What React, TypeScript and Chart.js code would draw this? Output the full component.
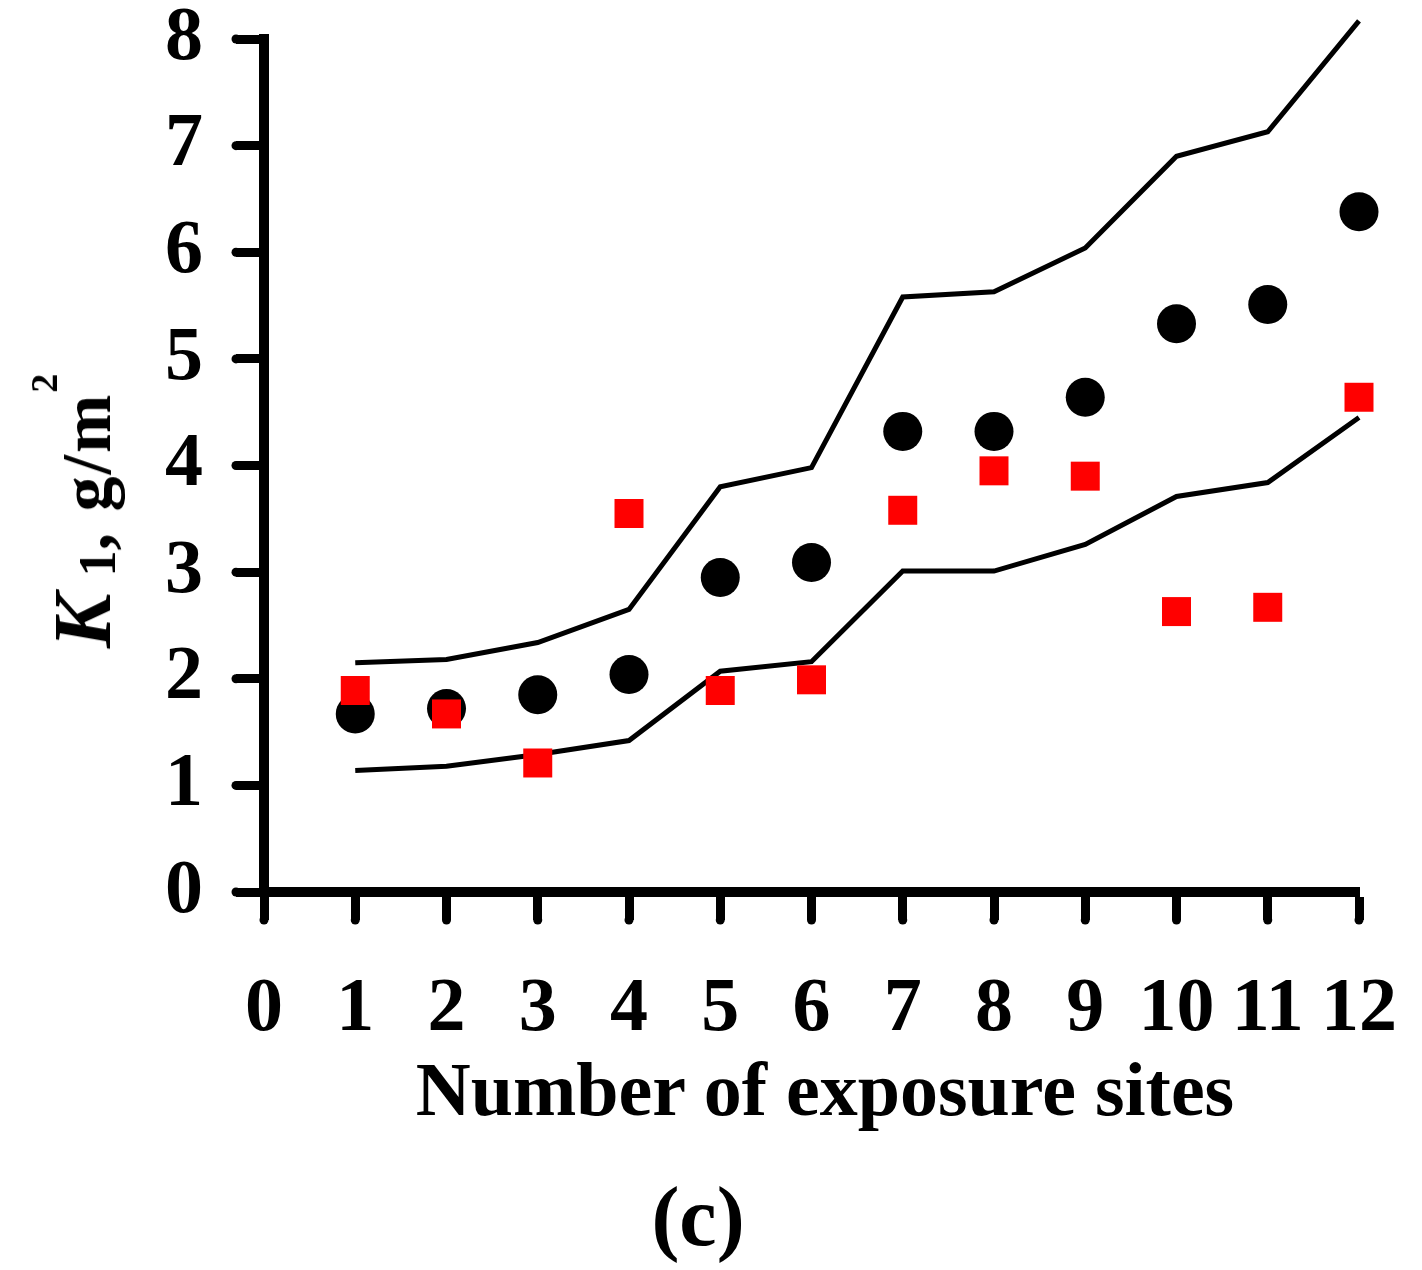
import React, { useEffect, useRef } from "react";
import { Chart, registerables } from "chart.js";

Chart.register(...registerables);

const sites = [1, 2, 3, 4, 5, 6, 7, 8, 9, 10, 11, 12];
const circleValues = [1.67, 1.72, 1.85, 2.04, 2.95, 3.09, 4.32, 4.32, 4.64, 5.33, 5.51, 6.38];
const squareValues = [1.89, 1.67, 1.21, 3.55, 1.89, 1.99, 3.58, 3.95, 3.9, 2.63, 2.67, 4.64];
const upperBound = [2.15, 2.18, 2.34, 2.65, 3.8, 3.98, 5.58, 5.63, 6.04, 6.9, 7.13, 8.17];
const lowerBound = [1.14, 1.18, 1.29, 1.42, 2.07, 2.16, 3.01, 3.01, 3.26, 3.71, 3.84, 4.45];
const xTickValues = [0, 1, 2, 3, 4, 5, 6, 7, 8, 9, 10, 11, 12];
const yTickValues = [0, 1, 2, 3, 4, 5, 6, 7, 8];

const FONT = "'Liberation Serif', 'Times New Roman', serif";
const TICK_LEN = 28;
const TICK_W = 9;

const toPoints = (ys: number[]) => sites.map((x, i) => ({ x, y: ys[i] }));

const zeroPadding = (scale: any) => {
  scale.paddingTop = 0;
  scale.paddingBottom = 0;
  scale.paddingLeft = 0;
  scale.paddingRight = 0;
};

const roundTickCaps = {
  id: "roundTickCaps",
  afterDraw(chart: any) {
    const { ctx, chartArea, scales } = chart;
    ctx.save();
    ctx.fillStyle = "#000";
    const r = TICK_W / 2;
    yTickValues.forEach((v) => {
      const py = scales.y.getPixelForValue(v);
      ctx.beginPath();
      ctx.arc(chartArea.left - TICK_LEN, py, r, 0, Math.PI * 2);
      ctx.fill();
    });
    xTickValues.forEach((v) => {
      const px = scales.x.getPixelForValue(v);
      ctx.beginPath();
      ctx.arc(px, chartArea.bottom + TICK_LEN, r, 0, Math.PI * 2);
      ctx.fill();
    });
    ctx.restore();
  },
};

export default function App() {
  const ref = useRef<HTMLCanvasElement | null>(null);

  useEffect(() => {
    if (!ref.current) return;
    const chart = new Chart(ref.current, {
      type: "scatter",
      data: {
        datasets: [
          {
            label: "squares",
            data: toPoints(squareValues),
            pointStyle: "rect",
            pointRadius: 20.5,
            pointBackgroundColor: "#ff0000",
            pointBorderWidth: 0,
            showLine: false,
            clip: false,
          } as any,
          {
            label: "circles",
            data: toPoints(circleValues),
            pointStyle: "circle",
            pointRadius: 19.5,
            pointBackgroundColor: "#000000",
            pointBorderWidth: 0,
            showLine: false,
            clip: false,
          } as any,
          {
            label: "upper",
            data: toPoints(upperBound),
            showLine: true,
            borderColor: "#000000",
            borderWidth: 5,
            pointRadius: 0,
            clip: false,
          } as any,
          {
            label: "lower",
            data: toPoints(lowerBound),
            showLine: true,
            borderColor: "#000000",
            borderWidth: 5,
            pointRadius: 0,
            clip: false,
          } as any,
        ],
      },
      options: {
        animation: false,
        responsive: false,
        devicePixelRatio: 1,
        events: [],
        layout: { padding: { left: 0, top: 39, right: 63, bottom: 228 } },
        plugins: { legend: { display: false }, tooltip: { enabled: false }, title: { display: false } },
        scales: {
          x: {
            type: "linear",
            min: 0,
            max: 12,
            afterBuildTicks: (scale: any) => {
              scale.ticks = xTickValues.map((v) => ({ value: v }));
            },
            afterFit: (scale: any) => {
              scale.height = 150;
              zeroPadding(scale);
            },
            ticks: {
              color: "#000",
              padding: 52,
              maxRotation: 0,
              autoSkip: false,
              font: { family: FONT, size: 76, weight: "bold", lineHeight: 1 },
            },
            grid: {
              drawOnChartArea: false,
              drawTicks: true,
              tickLength: TICK_LEN,
              tickWidth: TICK_W,
              tickColor: "#000",
            },
            border: { display: true, width: 10, color: "#000" },
          },
          y: {
            type: "linear",
            min: 0,
            max: 8,
            afterBuildTicks: (scale: any) => {
              scale.ticks = yTickValues.map((v) => ({ value: v }));
            },
            afterFit: (scale: any) => {
              scale.width = 264;
              zeroPadding(scale);
            },
            ticks: {
              color: "#000",
              padding: 33,
              autoSkip: false,
              font: { family: FONT, size: 76, weight: "bold", lineHeight: 1 },
            },
            grid: {
              drawOnChartArea: false,
              drawTicks: true,
              tickLength: TICK_LEN,
              tickWidth: TICK_W,
              tickColor: "#000",
            },
            border: { display: true, width: 10, color: "#000" },
          },
        },
      } as any,
      plugins: [roundTickCaps],
    });
    return () => chart.destroy();
  }, []);

  return (
    <div style={{ position: "absolute", left: 0, top: 0, width: 1422, height: 1270, background: "#fff", fontFamily: FONT }}>
      <canvas ref={ref} width={1422} height={1270} style={{ position: "absolute", left: 0, top: 0, width: 1422, height: 1270 }} />
      <div
        style={{
          position: "absolute",
          left: 83,
          top: 511,
          transform: "translate(-50%, -50%) rotate(-90deg)",
          whiteSpace: "nowrap",
          fontWeight: "bold",
          fontSize: 70,
          lineHeight: 1,
          color: "#000",
        }}
      >
        <i style={{ fontSize: 82, lineHeight: 1 }}>K</i>
        <span style={{ fontSize: 52, lineHeight: 1, position: "relative", top: 5, marginLeft: 4 }}>&nbsp;1</span>
        <span style={{ letterSpacing: 2 }}>, g/m</span>
        <span style={{ fontSize: 38, lineHeight: 1, position: "relative", top: -53 }}>2</span>
      </div>
      <div
        style={{
          position: "absolute",
          left: 825,
          top: 1089,
          transform: "translate(-50%, -50%)",
          whiteSpace: "nowrap",
          fontWeight: "bold",
          fontSize: 76,
          lineHeight: 1,
          color: "#000",
        }}
      >
        Number of exposure sites
      </div>
      <div
        style={{
          position: "absolute",
          left: 698,
          top: 1217,
          transform: "translate(-50%, -50%)",
          whiteSpace: "nowrap",
          fontWeight: "bold",
          fontSize: 84,
          lineHeight: 1,
          color: "#000",
        }}
      >
        (c)
      </div>
    </div>
  );
}
